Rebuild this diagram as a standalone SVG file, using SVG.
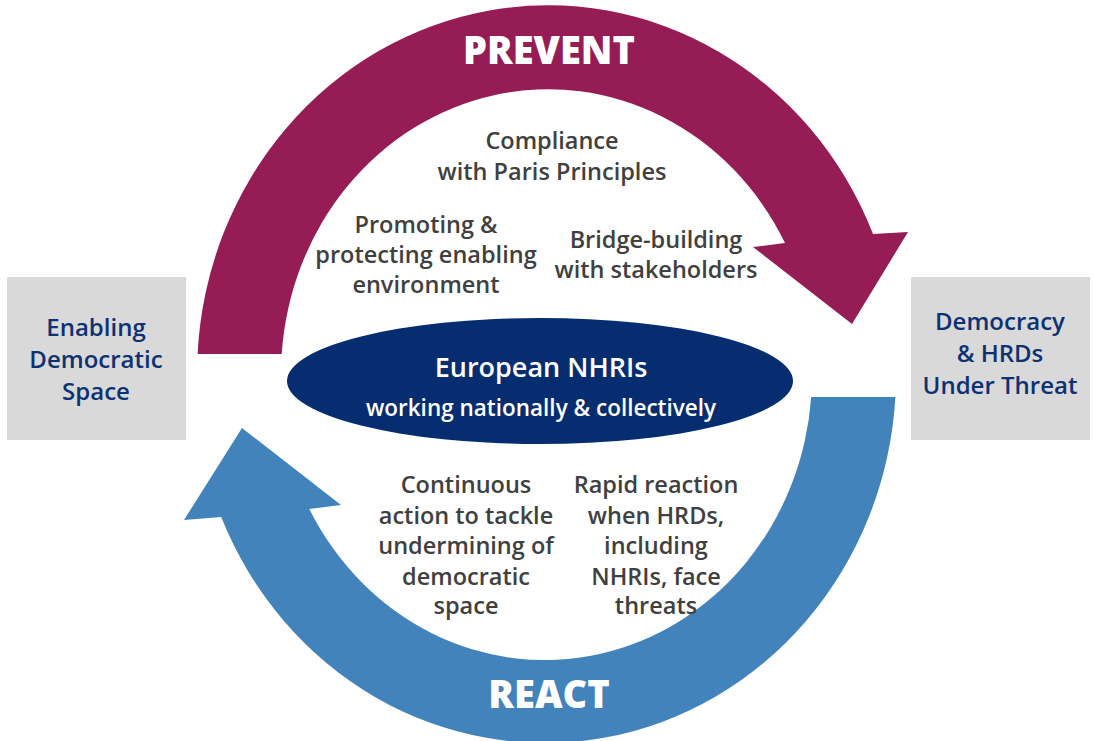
<svg xmlns="http://www.w3.org/2000/svg" width="1094" height="741" viewBox="0 0 1094 741">
<style>
.box{fill:#D9D9D9}
.boxt{font-family:"Open Sans","Noto Sans",sans-serif;font-weight:600;font-size:24px;fill:#0D3273;text-anchor:middle}
.gt{font-family:"Open Sans","Noto Sans",sans-serif;font-weight:600;font-size:23.5px;fill:#404040;text-anchor:middle}
.big{font-family:"Open Sans","Noto Sans",sans-serif;font-weight:800;font-size:38px;fill:#FFFFFF;text-anchor:middle}
.wt{font-family:"Open Sans","Noto Sans",sans-serif;font-weight:600;fill:#FFFFFF;text-anchor:middle}
</style>
<rect width="1094" height="741" fill="#FFFFFF"/>
<g id="connectors">
  <g id="prevent-arrow">
    <path d="M197.6 354 A351 368 0 0 1 873 234 L908 232 L852 324 L753 247 L785 243 A267 285 0 0 0 281.7 354 Z" fill="#951C55"/>
    <text class="big" x="549" y="64">PREVENT</text>
  </g>
  <g id="react-arrow">
    <path d="M895.4 397 A351 368 0 0 1 221.2 517 L184 520 L242 428 L341 505 L309.3 509 A267 285 0 0 0 811.2 397 Z" fill="#4383BC"/>
    <text class="big" x="549" y="708">REACT</text>
  </g>
</g>
<g id="node-enabling">
  <rect class="box" x="7" y="277" width="179" height="163"/>
  <text class="boxt" x="96" y="336">Enabling</text>
  <text class="boxt" x="96" y="368">Democratic</text>
  <text class="boxt" x="96" y="400">Space</text>
</g>
<g id="node-threat">
  <rect class="box" x="911" y="277" width="179" height="163"/>
  <text class="boxt" x="1000" y="330">Democracy</text>
  <text class="boxt" x="1000" y="362">&amp; HRDs</text>
  <text class="boxt" x="1000" y="394">Under Threat</text>
</g>
<g id="node-nhris">
  <ellipse cx="540" cy="381" rx="253" ry="63" fill="#062D6F"/>
  <text class="wt" x="541" y="377" font-size="27">European NHRIs</text>
  <text class="wt" x="541" y="416" font-size="22.5">working nationally &amp; collectively</text>
</g>
<g id="node-compliance">
  <text class="gt" x="552" y="149">Compliance</text>
  <text class="gt" x="552" y="180">with Paris Principles</text>
</g>
<g id="node-promoting">
  <text class="gt" x="426" y="233">Promoting &amp;</text>
  <text class="gt" x="426" y="263">protecting enabling</text>
  <text class="gt" x="426" y="293">environment</text>
</g>
<g id="node-bridge">
  <text class="gt" x="656" y="248">Bridge-building</text>
  <text class="gt" x="656" y="278">with stakeholders</text>
</g>
<g id="node-continuous">
  <text class="gt" x="466" y="493">Continuous</text>
  <text class="gt" x="466" y="524">action to tackle</text>
  <text class="gt" x="466" y="554">undermining of</text>
  <text class="gt" x="466" y="585">democratic</text>
  <text class="gt" x="466" y="614">space</text>
</g>
<g id="node-rapid">
  <text class="gt" x="656" y="493">Rapid reaction</text>
  <text class="gt" x="656" y="524">when HRDs,</text>
  <text class="gt" x="656" y="554">including</text>
  <text class="gt" x="656" y="585">NHRIs, face</text>
  <text class="gt" x="656" y="614">threats</text>
</g>
</svg>
